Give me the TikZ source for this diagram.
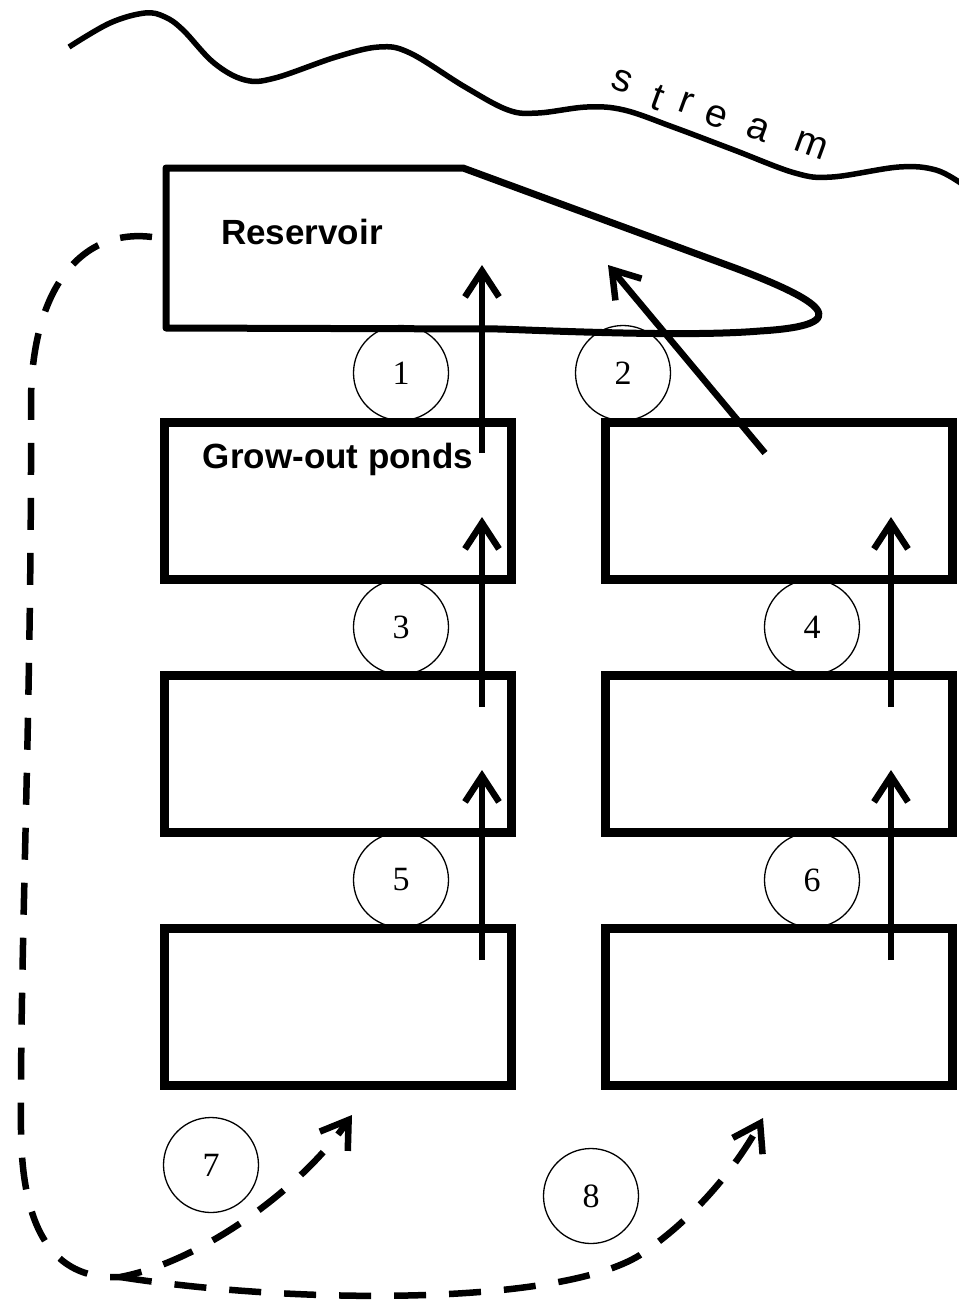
\documentclass[tikz,border=0pt]{standalone}
\usepackage{fontspec}
\setmainfont{Liberation Serif}
\newfontfamily\arialf{Liberation Sans}
\usetikzlibrary{arrows.meta}
\begin{document}
\begin{tikzpicture}[x=1pt,y=-1pt,
  pond/.style={draw, line width=9pt, rectangle, minimum width=347pt, minimum height=157pt, inner sep=0pt},
  num/.style={draw, circle, line width=1.3pt, minimum size=95pt, inner sep=0pt, font=\fontsize{34}{34}\selectfont},
  flow/.style={line width=6.5pt, -{Straight Barb[length=26pt,width=34pt]}},
  back/.style={flow, dash pattern=on 32pt off 23pt},
  lbl/.style={font=\arialf\bfseries\fontsize{35}{35}\selectfont, inner sep=0pt},
  sl/.style={font=\arialf\fontsize{39}{39}\selectfont, rotate=-20, inner sep=0pt}]
\useasboundingbox (0,0) rectangle (959,1302);

% stream
\draw[line width=5.5pt] plot[smooth, tension=0.6] coordinates {
  (69,47) (110,23) (145,13) (165,17) (183,30) (214,63) (245,80) (275,78)
  (336,57) (379,47) (410,53) (465,87) (508,110) (538,113) (587,107) (624,110)
  (673,127) (734,150) (795,173) (832,177) (899,167) (936,170) (962,184)};
\node[sl] (s1) at (622,81) {s};
\node[sl] (s2) at (658,98) {t};
\node[sl] (s3) at (686,103) {r};
\node[sl] (s4) at (716,117) {e};
\node[sl] (s5) at (758,130) {a};
\node[sl] (s6) at (811,145) {m};

% reservoir
\draw[line width=7pt, line join=round] (166,168) -- (463,168) -- (735,268)
  .. controls (820,300) and (860,325) .. (760,331)
  .. controls (700,336) and (600,333) .. (500,329) -- (166,328) -- cycle;
\node[lbl] (res) at (302,232) {Reservoir};

% ponds
\node[pond] (p1L) at (338,501) {};
\node[pond] (p2L) at (338,754) {};
\node[pond] (p3L) at (338,1007) {};
\node[pond] (p1R) at (779,501) {};
\node[pond] (p2R) at (779,754) {};
\node[pond] (p3R) at (779,1007) {};
\node[lbl] (gop) at (338,459) {Grow-out ponds};

% numbered circles
\node[num] (c1) at (401,373) {1};
\node[num] (c2) at (623,373) {2};
\node[num] (c3) at (401,627) {3};
\node[num] (c4) at (812,627) {4};
\node[num] (c5) at (401,880) {5};
\node[num] (c6) at (812,880) {6};
\node[num] (c7) at (211,1165) {7};
\node[num] (c8) at (591,1196) {8};

% flow arrows
\coordinate (a1s) at (482,453); \coordinate (a1e) at (482,265);
\coordinate (a2s) at (765,453); \coordinate (a2e) at (608,265);
\coordinate (a3s) at (482,707); \coordinate (a3e) at (482,517);
\coordinate (a4s) at (482,960); \coordinate (a4e) at (482,770);
\coordinate (a5s) at (891,707); \coordinate (a5e) at (891,517);
\coordinate (a6s) at (891,960); \coordinate (a6e) at (891,770);
\draw[flow] (a1s) -- (a1e);
\draw[flow] (a2s) -- (a2e);
\draw[flow] (a3s) -- (a3e);
\draw[flow] (a4s) -- (a4e);
\draw[flow] (a5s) -- (a5e);
\draw[flow] (a6s) -- (a6e);

% return (dashed) flow
\coordinate (d0) at (152,237);
\coordinate (dsplit) at (120,1277);
\coordinate (d1e) at (352,1115);
\coordinate (d2e) at (763,1118);
\draw[back] (d0) .. controls (80,228) and (32,290) .. (31,400)
  .. controls (32,700) and (20,950) .. (21,1130)
  .. controls (22,1240) and (60,1280) .. (dsplit)
  .. controls (200,1262) and (300,1190) .. (d1e);
\draw[back] (dsplit) .. controls (300,1305) and (560,1305) .. (640,1255)
  .. controls (700,1215) and (740,1160) .. (d2e);
\end{tikzpicture}
\end{document}
